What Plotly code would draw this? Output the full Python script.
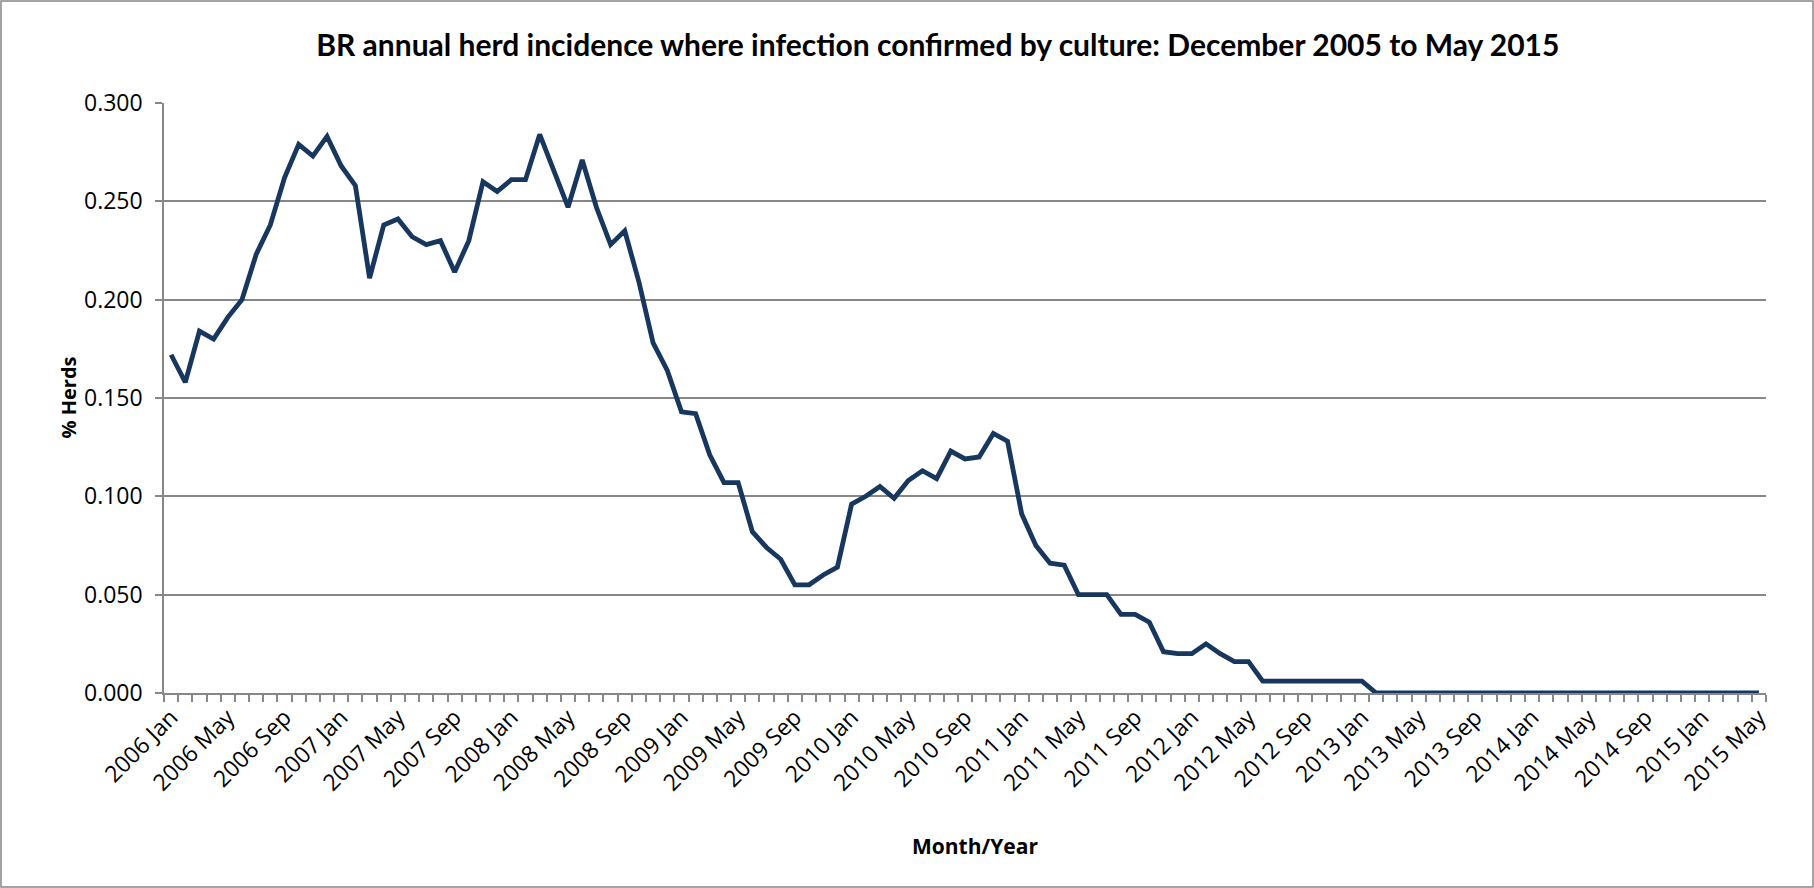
import plotly.graph_objects as go

years = list(range(2006, 2016))
month_names = ["Jan", "Feb", "Mar", "Apr", "May", "Jun",
               "Jul", "Aug", "Sep", "Oct", "Nov", "Dec"]
months = [f"{y} {m}" for y in years for m in month_names][:113]  # 2006 Jan .. 2015 May

incidence = [
    0.172, 0.158, 0.184, 0.180, 0.191, 0.200, 0.223, 0.238, 0.262, 0.279, 0.273, 0.283,
    0.268, 0.258, 0.211, 0.238, 0.241, 0.232, 0.228, 0.230, 0.214, 0.230, 0.260, 0.255,
    0.261, 0.261, 0.284, 0.265, 0.247, 0.271, 0.247, 0.228, 0.235, 0.209, 0.178, 0.164,
    0.143, 0.142, 0.121, 0.107, 0.107, 0.082, 0.074, 0.068, 0.055, 0.055, 0.060, 0.064,
    0.096, 0.100, 0.105, 0.099, 0.108, 0.113, 0.109, 0.123, 0.119, 0.120, 0.132, 0.128,
    0.091, 0.075, 0.066, 0.065, 0.050, 0.050, 0.050, 0.040, 0.040, 0.036, 0.021, 0.020,
    0.020, 0.025, 0.020, 0.016, 0.016, 0.006, 0.006, 0.006, 0.006, 0.006, 0.006, 0.006,
    0.006, 0.000, 0.000, 0.000, 0.000, 0.000, 0.000, 0.000, 0.000, 0.000, 0.000, 0.000,
    0.000, 0.000, 0.000, 0.000, 0.000, 0.000, 0.000, 0.000, 0.000, 0.000, 0.000, 0.000,
    0.000, 0.000, 0.000, 0.000, 0.000,
]

title_text = "BR annual herd incidence where infection confirmed by culture: December 2005 to May 2015"
y_title = "% Herds"
x_title = "Month/Year"

idx = list(range(len(months)))
tick_idx = idx[::4]
tick_txt = [months[i] for i in tick_idx]

W, H = 1814, 888
ML, MR, MT, MB = 164, 48, 103, 195
PW, PH = W - ML - MR, H - MT - MB

grid = "#878787"
font_lbl = dict(family="Open Sans", size=23, color="#000000")

fig = go.Figure()
fig.add_trace(go.Scatter(
    x=idx, y=incidence, mode="lines",
    line=dict(color="#17375E", width=4.8),
    hoverinfo="skip", showlegend=False,
))

fig.update_layout(
    width=W, height=H,
    margin=dict(l=ML, r=MR, t=MT, b=MB, pad=0),
    paper_bgcolor="white", plot_bgcolor="white",
    title=dict(text="<b>" + title_text + "</b>", x=0.517, xref="container", xanchor="center",
               y=1 - 45.5 / H, yref="container", yanchor="middle",
               font=dict(family="Lato", size=30, color="#000000")),
    xaxis=dict(
        range=[-0.5, len(months) - 0.5], tickvals=tick_idx, ticktext=tick_txt,
        tickangle=-45, tickfont=font_lbl, ticks="", showgrid=False, zeroline=False,
        showline=True, linecolor=grid, linewidth=1.5,
        minor=dict(tick0=-0.5, dtick=1, ticks="outside", ticklen=7, tickcolor=grid,
                   tickwidth=1.5, showgrid=False),
    ),
    yaxis=dict(
        range=[0, 0.3], dtick=0.05, tickformat=".3f", tickfont=font_lbl,
        ticks="outside", ticklen=7, tickcolor=grid, tickwidth=1.5,
        showgrid=True, gridcolor=grid, gridwidth=1.5, zeroline=False,
        showline=True, linecolor=grid, linewidth=1.5, ticklabelstandoff=8,
    ),
    annotations=[
        dict(text="<b>" + y_title + "</b>", xref="paper", yref="paper",
             x=(67.5 - ML) / PW, y=0.5, xanchor="center", yanchor="middle",
             textangle=-90, showarrow=False,
             font=dict(family="Open Sans", size=20, color="#000000")),
        dict(text="<b>" + x_title + "</b>", xref="paper", yref="paper",
             x=(975 - ML) / PW, y=-(846 - (H - MB)) / PH, xanchor="center", yanchor="middle",
             showarrow=False,
             font=dict(family="Open Sans", size=21, color="#000000")),
    ],
    shapes=[
        dict(type="rect", xref="paper", yref="paper",
             x0=-(ML - 1) / PW, x1=1 + (MR - 1) / PW,
             y0=-(MB - 1) / PH, y1=1 + (MT - 1) / PH,
             line=dict(color=grid, width=1.5), fillcolor="rgba(0,0,0,0)", layer="below"),
    ],
)

fig.write_html("out.html", config={"displayModeBar": False},
               post_script="document.body.style.margin='0';document.body.style.overflow='hidden';")
